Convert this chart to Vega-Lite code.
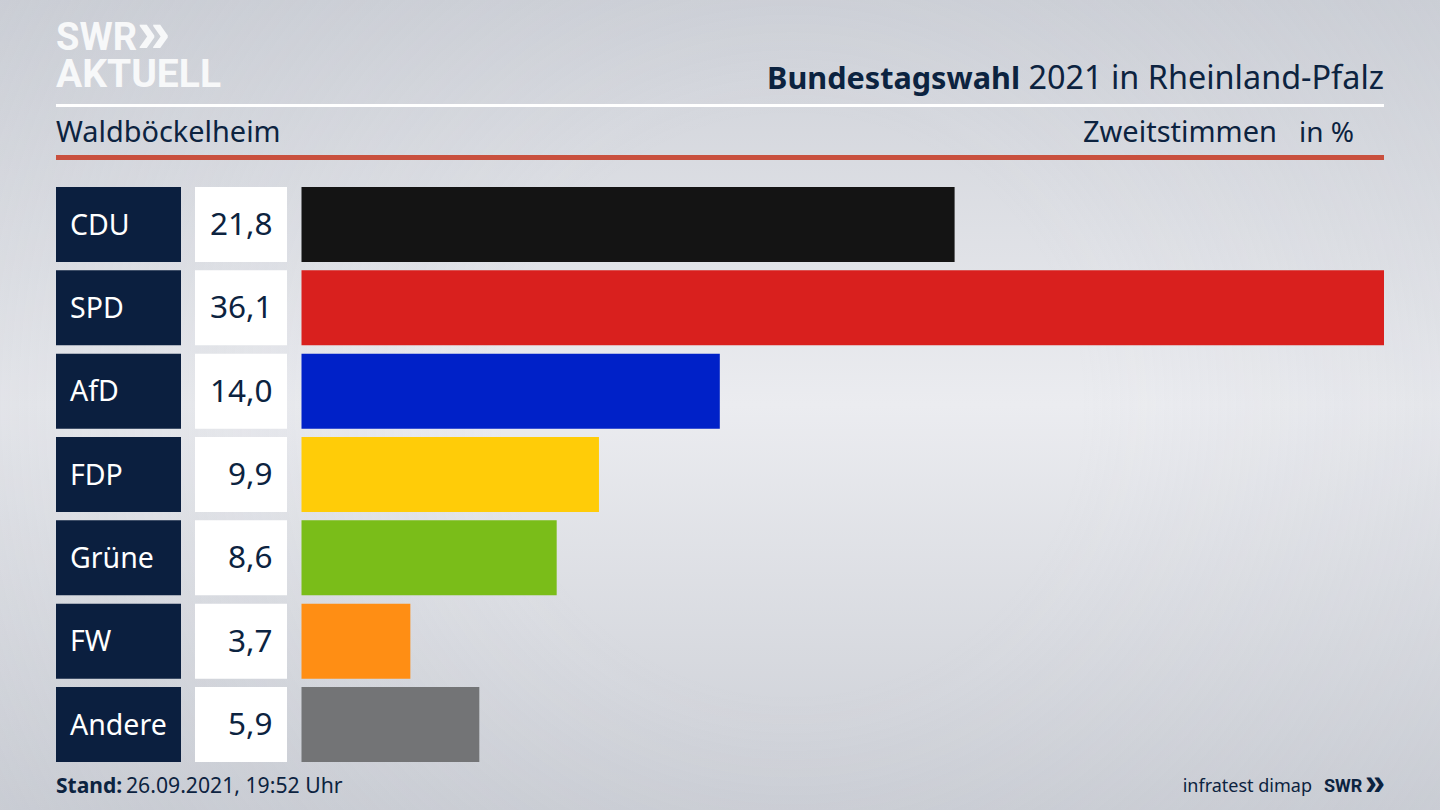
{
  "$schema": "https://vega.github.io/schema/vega-lite/v6.json",
  "width": 1440,
  "height": 810,
  "padding": 0,
  "autosize": {"type": "none"},
  "background": "#d4d7dd",
  "config": {"view": {"stroke": null}, "font": "Noto Sans"},
  "datasets": {
    "results": [
      {"party": "CDU", "share": 21.78, "label": "21,8"},
      {"party": "SPD", "share": 36.1, "label": "36,1"},
      {"party": "AfD", "share": 13.95, "label": "14,0"},
      {"party": "FDP", "share": 9.92, "label": "9,9"},
      {"party": "Grüne", "share": 8.51, "label": "8,6"},
      {"party": "FW", "share": 3.63, "label": "3,7"},
      {"party": "Andere", "share": 5.93, "label": "5,9"}
    ]
  },
  "layer": [
    {
      "data": {"values": [{"page": "background"}]},
      "mark": {
        "type": "rect",
        "fill": {
          "gradient": "linear",
          "x1": 0, "y1": 0, "x2": 0, "y2": 1,
          "stops": [
            {"offset": 0, "color": "#cdd0d7"},
            {"offset": 0.5, "color": "#ebecf0"},
            {"offset": 1, "color": "#cbced5"}
          ]
        }
      },
      "encoding": {
        "x": {"datum": 0, "type": "quantitative", "scale": {"domain": [0, 1440], "range": [0, 1440]}, "axis": null},
        "x2": {"datum": 1440},
        "y": {"datum": 0, "type": "quantitative", "scale": {"domain": [0, 810], "range": [0, 810]}, "axis": null},
        "y2": {"datum": 810}
      }
    },
    {
      "data": {"values": [{"page": "vignette"}]},
      "mark": {
        "type": "rect",
        "fill": {
          "gradient": "radial",
          "x1": 0.55, "y1": 0.5, "r1": 0.2,
          "x2": 0.55, "y2": 0.5, "r2": 0.75,
          "stops": [
            {"offset": 0, "color": "rgba(195,199,207,0)"},
            {"offset": 1, "color": "rgba(195,199,207,0.35)"}
          ]
        }
      },
      "encoding": {
        "x": {"datum": 0, "type": "quantitative", "scale": {"domain": [0, 1440], "range": [0, 1440]}, "axis": null},
        "x2": {"datum": 1440},
        "y": {"datum": 0, "type": "quantitative", "scale": {"domain": [0, 810], "range": [0, 810]}, "axis": null},
        "y2": {"datum": 810}
      }
    },
    {
      "data": {"values": [{"rule": "white"}]},
      "mark": {"type": "rect", "fill": "#ffffff"},
      "encoding": {
        "x": {"datum": 56, "type": "quantitative", "scale": {"domain": [0, 1440], "range": [0, 1440]}, "axis": null},
        "x2": {"datum": 1384},
        "y": {"datum": 104, "type": "quantitative", "scale": {"domain": [0, 810], "range": [0, 810]}, "axis": null},
        "y2": {"datum": 107}
      }
    },
    {
      "data": {"values": [{"rule": "red"}]},
      "mark": {"type": "rect", "fill": "#c9503e"},
      "encoding": {
        "x": {"datum": 56, "type": "quantitative", "scale": {"domain": [0, 1440], "range": [0, 1440]}, "axis": null},
        "x2": {"datum": 1384},
        "y": {"datum": 155, "type": "quantitative", "scale": {"domain": [0, 810], "range": [0, 810]}, "axis": null},
        "y2": {"datum": 160}
      }
    },
    {
      "data": {"name": "results"},
      "mark": {"type": "rect", "fill": "#0b1f3f"},
      "encoding": {
        "x": {"datum": 56, "type": "quantitative", "scale": {"domain": [0, 1440], "range": [0, 1440]}, "axis": null},
        "x2": {"datum": 181},
        "y": {"field": "party", "type": "nominal", "sort": null, "scale": {"type": "band", "range": [187, 762], "paddingInner": 0.1, "paddingOuter": 0}, "axis": null}
      }
    },
    {
      "data": {"name": "results"},
      "mark": {"type": "rect", "fill": "#ffffff"},
      "encoding": {
        "x": {"datum": 195, "type": "quantitative", "scale": {"domain": [0, 1440], "range": [0, 1440]}, "axis": null},
        "x2": {"datum": 287},
        "y": {"field": "party", "type": "nominal", "sort": null, "scale": {"type": "band", "range": [187, 762], "paddingInner": 0.1, "paddingOuter": 0}, "axis": null}
      }
    },
    {
      "data": {"name": "results"},
      "mark": {"type": "bar"},
      "encoding": {
        "x": {"field": "share", "type": "quantitative", "stack": null, "scale": {"domain": [0, 36.1], "range": [301.5, 1384]}, "axis": null},
        "y": {"field": "party", "type": "nominal", "sort": null, "scale": {"type": "band", "range": [187, 762], "paddingInner": 0.1, "paddingOuter": 0}, "axis": null},
        "color": {
          "field": "party",
          "type": "nominal",
          "sort": null,
          "legend": null,
          "scale": {
            "domain": ["CDU", "SPD", "AfD", "FDP", "Grüne", "FW", "Andere"],
            "range": ["#141414", "#d9201e", "#0021c8", "#ffcc08", "#7abd19", "#ff8e14", "#737476"]
          }
        }
      }
    },
    {
      "data": {"name": "results"},
      "mark": {"type": "text", "align": "left", "baseline": "middle", "dy": 1, "fontSize": 28.5, "color": "#ffffff"},
      "encoding": {
        "x": {"datum": 70, "type": "quantitative", "scale": {"domain": [0, 1440], "range": [0, 1440]}, "axis": null},
        "y": {"field": "party", "type": "nominal", "sort": null, "scale": {"type": "band", "range": [187, 762], "paddingInner": 0.1, "paddingOuter": 0}, "axis": null},
        "text": {"field": "party"}
      }
    },
    {
      "data": {"name": "results"},
      "mark": {"type": "text", "align": "right", "baseline": "middle", "dy": 1.5, "fontSize": 31.5, "color": "#0c2340"},
      "encoding": {
        "x": {"datum": 272.5, "type": "quantitative", "scale": {"domain": [0, 1440], "range": [0, 1440]}, "axis": null},
        "y": {"field": "party", "type": "nominal", "sort": null, "scale": {"type": "band", "range": [187, 762], "paddingInner": 0.1, "paddingOuter": 0}, "axis": null},
        "text": {"field": "label"}
      }
    },
    {
      "data": {"values": [{"text": "SWR"}]},
      "mark": {"type": "text", "align": "left", "baseline": "alphabetic", "font": "Roboto", "fontSize": 38, "fontWeight": 700, "color": "#f7f8f9"},
      "encoding": {
        "x": {"datum": 56, "type": "quantitative", "scale": {"domain": [0, 1440], "range": [0, 1440]}, "axis": null},
        "y": {"datum": 50, "type": "quantitative", "scale": {"domain": [0, 810], "range": [0, 810]}, "axis": null},
        "text": {"field": "text"}
      }
    },
    {
      "data": {"values": [{"text": "»"}]},
      "mark": {"type": "text", "align": "left", "baseline": "alphabetic", "font": "Liberation Sans", "fontSize": 60, "fontWeight": 700, "color": "#f7f8f9"},
      "encoding": {
        "x": {"datum": 137, "type": "quantitative", "scale": {"domain": [0, 1440], "range": [0, 1440]}, "axis": null},
        "y": {"datum": 52, "type": "quantitative", "scale": {"domain": [0, 810], "range": [0, 810]}, "axis": null},
        "text": {"field": "text"}
      }
    },
    {
      "data": {"values": [{"text": "AKTUELL"}]},
      "mark": {"type": "text", "align": "left", "baseline": "alphabetic", "font": "Roboto", "fontSize": 39, "fontWeight": 700, "color": "#f7f8f9"},
      "encoding": {
        "x": {"datum": 56, "type": "quantitative", "scale": {"domain": [0, 1440], "range": [0, 1440]}, "axis": null},
        "y": {"datum": 87, "type": "quantitative", "scale": {"domain": [0, 810], "range": [0, 810]}, "axis": null},
        "text": {"field": "text"}
      }
    },
    {
      "data": {"values": [{"text": "2021 in Rheinland-Pfalz"}]},
      "mark": {"type": "text", "align": "right", "baseline": "alphabetic", "fontSize": 32.4, "color": "#0c2340"},
      "encoding": {
        "x": {"datum": 1384, "type": "quantitative", "scale": {"domain": [0, 1440], "range": [0, 1440]}, "axis": null},
        "y": {"datum": 89, "type": "quantitative", "scale": {"domain": [0, 810], "range": [0, 810]}, "axis": null},
        "text": {"field": "text"}
      }
    },
    {
      "data": {"values": [{"text": "Bundestagswahl"}]},
      "mark": {"type": "text", "align": "right", "baseline": "alphabetic", "fontSize": 30.6, "fontWeight": 700, "color": "#0c2340"},
      "encoding": {
        "x": {"datum": 1020, "type": "quantitative", "scale": {"domain": [0, 1440], "range": [0, 1440]}, "axis": null},
        "y": {"datum": 89, "type": "quantitative", "scale": {"domain": [0, 810], "range": [0, 810]}, "axis": null},
        "text": {"field": "text"}
      }
    },
    {
      "data": {"values": [{"text": "Waldböckelheim"}]},
      "mark": {"type": "text", "align": "left", "baseline": "alphabetic", "fontSize": 28.9, "color": "#0c2340"},
      "encoding": {
        "x": {"datum": 56, "type": "quantitative", "scale": {"domain": [0, 1440], "range": [0, 1440]}, "axis": null},
        "y": {"datum": 142, "type": "quantitative", "scale": {"domain": [0, 810], "range": [0, 810]}, "axis": null},
        "text": {"field": "text"}
      }
    },
    {
      "data": {"values": [{"text": "Zweitstimmen"}]},
      "mark": {"type": "text", "align": "right", "baseline": "alphabetic", "fontSize": 29, "color": "#0c2340"},
      "encoding": {
        "x": {"datum": 1277, "type": "quantitative", "scale": {"domain": [0, 1440], "range": [0, 1440]}, "axis": null},
        "y": {"datum": 142, "type": "quantitative", "scale": {"domain": [0, 810], "range": [0, 810]}, "axis": null},
        "text": {"field": "text"}
      }
    },
    {
      "data": {"values": [{"text": "in %"}]},
      "mark": {"type": "text", "align": "right", "baseline": "alphabetic", "fontSize": 28, "color": "#0c2340"},
      "encoding": {
        "x": {"datum": 1354, "type": "quantitative", "scale": {"domain": [0, 1440], "range": [0, 1440]}, "axis": null},
        "y": {"datum": 142, "type": "quantitative", "scale": {"domain": [0, 810], "range": [0, 810]}, "axis": null},
        "text": {"field": "text"}
      }
    },
    {
      "data": {"values": [{"text": "Stand:"}]},
      "mark": {"type": "text", "align": "left", "baseline": "alphabetic", "fontSize": 21, "fontWeight": 700, "color": "#0c2340"},
      "encoding": {
        "x": {"datum": 56, "type": "quantitative", "scale": {"domain": [0, 1440], "range": [0, 1440]}, "axis": null},
        "y": {"datum": 793, "type": "quantitative", "scale": {"domain": [0, 810], "range": [0, 810]}, "axis": null},
        "text": {"field": "text"}
      }
    },
    {
      "data": {"values": [{"text": "26.09.2021, 19:52 Uhr"}]},
      "mark": {"type": "text", "align": "left", "baseline": "alphabetic", "fontSize": 21.2, "color": "#0c2340"},
      "encoding": {
        "x": {"datum": 126, "type": "quantitative", "scale": {"domain": [0, 1440], "range": [0, 1440]}, "axis": null},
        "y": {"datum": 793, "type": "quantitative", "scale": {"domain": [0, 810], "range": [0, 810]}, "axis": null},
        "text": {"field": "text"}
      }
    },
    {
      "data": {"values": [{"text": "infratest dimap"}]},
      "mark": {"type": "text", "align": "right", "baseline": "alphabetic", "fontSize": 18, "color": "#0c2340"},
      "encoding": {
        "x": {"datum": 1312, "type": "quantitative", "scale": {"domain": [0, 1440], "range": [0, 1440]}, "axis": null},
        "y": {"datum": 792, "type": "quantitative", "scale": {"domain": [0, 810], "range": [0, 810]}, "axis": null},
        "text": {"field": "text"}
      }
    },
    {
      "data": {"values": [{"text": "SWR"}]},
      "mark": {"type": "text", "align": "left", "baseline": "alphabetic", "font": "Roboto", "fontSize": 18, "fontWeight": 700, "color": "#0c2340"},
      "encoding": {
        "x": {"datum": 1324, "type": "quantitative", "scale": {"domain": [0, 1440], "range": [0, 1440]}, "axis": null},
        "y": {"datum": 792, "type": "quantitative", "scale": {"domain": [0, 810], "range": [0, 810]}, "axis": null},
        "text": {"field": "text"}
      }
    },
    {
      "data": {"values": [{"text": "»"}]},
      "mark": {"type": "text", "align": "right", "baseline": "alphabetic", "font": "Liberation Sans", "fontSize": 36, "fontWeight": 700, "color": "#0c2340"},
      "encoding": {
        "x": {"datum": 1385, "type": "quantitative", "scale": {"domain": [0, 1440], "range": [0, 1440]}, "axis": null},
        "y": {"datum": 795, "type": "quantitative", "scale": {"domain": [0, 810], "range": [0, 810]}, "axis": null},
        "text": {"field": "text"}
      }
    }
  ],
  "resolve": {"scale": {"x": "independent", "y": "independent", "color": "independent"}}
}
